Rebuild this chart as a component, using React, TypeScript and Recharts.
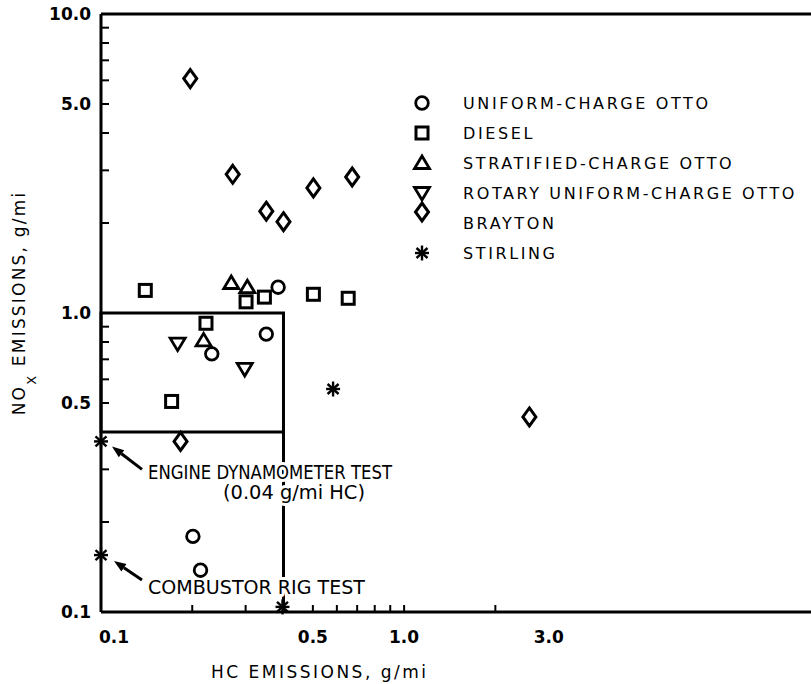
import React from 'react';
import {
  ScatterChart,
  Scatter,
  XAxis,
  YAxis,
  ReferenceArea,
  ReferenceLine,
  ReferenceDot,
  Legend,
} from 'recharts';

const FONT = '"DejaVu Sans", sans-serif';

// axis limits (log scales)
const HC_MIN = 0.1;
const HC_MAX = 22;
const NOX_MIN = 0.1;
const NOX_MAX = 10;

const seriesNames = [
  'UNIFORM-CHARGE OTTO',
  'DIESEL',
  'STRATIFIED-CHARGE OTTO',
  'ROTARY UNIFORM-CHARGE OTTO',
  'BRAYTON',
  'STIRLING',
];
const seriesKinds = ['circle', 'square', 'triangle', 'triangleDown', 'diamond', 'star'];

// HC and NOx emissions, g/mi
const uniformHc = [0.384, 0.351, 0.232, 0.201, 0.213];
const uniformNox = [1.22, 0.85, 0.73, 0.179, 0.138];

const dieselHc = [0.14, 0.301, 0.346, 0.502, 0.654, 0.222, 0.171];
const dieselNox = [1.19, 1.09, 1.13, 1.155, 1.12, 0.924, 0.506];

const stratifiedHc = [0.269, 0.304, 0.218];
const stratifiedNox = [1.26, 1.22, 0.81];

const rotaryHc = [0.179, 0.298];
const rotaryNox = [0.79, 0.65];

const braytonHc = [0.197, 0.272, 0.351, 0.4, 0.502, 0.674, 2.59, 0.183];
const braytonNox = [6.08, 2.91, 2.19, 2.02, 2.62, 2.85, 0.449, 0.372];

// first two are the engine dynamometer and combustor rig tests (HC off scale)
const stirlingHc = [0.04, 0.1, 0.583, 0.397];
const stirlingNox = [0.372, 0.155, 0.557, 0.104];

const xTicks = [0.1, 0.2, 0.3, 0.4, 0.5, 0.6, 0.7, 0.8, 0.9, 1, 2, 3];
const xLabelValues = [0.1, 0.5, 1, 3];
const xLabelTexts = ['0.1', '0.5', '1.0', '3.0'];

const yTicks = [0.1, 0.2, 0.3, 0.4, 0.5, 0.6, 0.7, 0.8, 0.9, 1, 2, 3, 4, 5, 6, 7, 8, 9, 10];
const yLabelValues = [0.1, 0.5, 1, 5, 10];
const yLabelTexts = ['0.1', '0.5', '1.0', '5.0', '10.0'];

// box marking the target region
const boxHc = [0.1, 0.4];
const boxNox = [0.4, 1.0];

// off-scale HC values sit on the left axis
const toPoints = (hc: number[], nox: number[]) =>
  hc.map((h, i) => ({ hc: Math.max(h, HC_MIN), nox: nox[i] }));

const seriesData = [
  toPoints(uniformHc, uniformNox),
  toPoints(dieselHc, dieselNox),
  toPoints(stratifiedHc, stratifiedNox),
  toPoints(rotaryHc, rotaryNox),
  toPoints(braytonHc, braytonNox),
  toPoints(stirlingHc, stirlingNox),
];

const Marker = ({ kind, cx, cy }: { kind: string; cx: number; cy: number }) => {
  const s = { fill: 'none', stroke: '#000', strokeWidth: 2.8 };
  switch (kind) {
    case 'circle':
      return <circle cx={cx} cy={cy} r={6.3} {...s} />;
    case 'square':
      return <rect x={cx - 6} y={cy - 6} width={12} height={12} {...s} strokeWidth={3} />;
    case 'triangle':
      return <polygon points={`${cx},${cy - 7} ${cx + 7.5},${cy + 5.5} ${cx - 7.5},${cy + 5.5}`} {...s} />;
    case 'triangleDown':
      return <polygon points={`${cx - 7.5},${cy - 5.5} ${cx + 7.5},${cy - 5.5} ${cx},${cy + 7}`} {...s} />;
    case 'diamond':
      return <polygon points={`${cx},${cy - 9} ${cx + 6.5},${cy} ${cx},${cy + 9} ${cx - 6.5},${cy}`} {...s} strokeWidth={3} />;
    default:
      return (
        <g stroke="#000" strokeWidth={2.4}>
          <line x1={cx} y1={cy - 7.5} x2={cx} y2={cy + 7.5} />
          <line x1={cx - 7} y1={cy} x2={cx + 7} y2={cy} />
          <line x1={cx - 5.5} y1={cy - 5} x2={cx + 5.5} y2={cy + 5} />
          <line x1={cx - 5.5} y1={cy + 5} x2={cx + 5.5} y2={cy - 5} />
        </g>
      );
  }
};

const XTick = (props: any) => {
  const { x, y, payload } = props;
  const i = xLabelValues.indexOf(payload.value);
  return (
    <g>
      {payload.value !== 3 && <line x1={x} x2={x} y1={y} y2={y - 7} stroke="#000" strokeWidth={2} />}
      {i >= 0 && (
        <text
          x={i === 0 ? x - 2 : x}
          y={y + 31}
          textAnchor={i === 0 ? 'start' : 'middle'}
          fontFamily={FONT}
          fontWeight="bold"
          fontSize={17}
          fill="#000"
        >
          {xLabelTexts[i]}
        </text>
      )}
    </g>
  );
};

const YTick = (props: any) => {
  const { x, y, payload } = props;
  const i = yLabelValues.indexOf(payload.value);
  return (
    <g>
      <line x1={x} x2={x + 8} y1={y} y2={y} stroke="#000" strokeWidth={2} />
      {i >= 0 && (
        <text x={x - 10} y={y + 6} textAnchor="end" fontFamily={FONT} fontWeight="bold" fontSize={17} fill="#000">
          {yLabelTexts[i]}
        </text>
      )}
    </g>
  );
};

const XTitle = (props: any) => {
  const vb = props.viewBox || { x: 101, y: 612 };
  return (
    <text x={vb.x + 110} y={vb.y + 66} textLength={215} lengthAdjust="spacing" fontFamily={FONT} fontSize={17} fill="#000">
      HC EMISSIONS, g/mi
    </text>
  );
};

const YTitle = (props: any) => {
  const vb = props.viewBox || { x: 0, y: 14, height: 598 };
  const x = vb.x + 25;
  const y = vb.y + vb.height / 2 - 10;
  return (
    <text
      x={x}
      y={y}
      transform={`rotate(-90, ${x}, ${y})`}
      textAnchor="middle"
      fontFamily={FONT}
      fontSize={17}
      letterSpacing={2.2}
      fill="#000"
    >
      NO
      <tspan fontSize={13} dy={11}>X</tspan>
      <tspan dy={-11}> EMISSIONS, g/mi</tspan>
    </text>
  );
};

const Arrow = ({ x1, y1, x2, y2 }: { x1: number; y1: number; x2: number; y2: number }) => {
  const len = Math.hypot(x2 - x1, y2 - y1);
  const ux = (x2 - x1) / len;
  const uy = (y2 - y1) / len;
  const bx = x2 - ux * 12;
  const by = y2 - uy * 12;
  const px = -uy * 4.5;
  const py = ux * 4.5;
  return (
    <g>
      <line x1={x1} y1={y1} x2={bx} y2={by} stroke="#000" strokeWidth={3} />
      <polygon points={`${x2},${y2} ${bx + px},${by + py} ${bx - px},${by - py}`} fill="#000" />
    </g>
  );
};

const NoteText = ({ x, y, width, children }: any) => (
  <text
    x={x}
    y={y}
    textLength={width}
    lengthAdjust="spacingAndGlyphs"
    fontFamily={FONT}
    fontSize={19}
    fill="#000"
    stroke="#fff"
    strokeWidth={6}
    strokeLinejoin="round"
    paintOrder="stroke"
  >
    {children}
  </text>
);

const EngineNote = (props: any) => {
  const { cx, cy } = props;
  return (
    <g>
      <Arrow x1={cx + 41} y1={cy + 28} x2={cx + 11} y2={cy + 5} />
      <NoteText x={cx + 47} y={cy + 38} width={244}>ENGINE DYNAMOMETER TEST</NoteText>
      <NoteText x={cx + 122} y={cy + 58} width={142}>(0.04 g/mi HC)</NoteText>
    </g>
  );
};

const CombustorNote = (props: any) => {
  const { cx, cy } = props;
  return (
    <g>
      <Arrow x1={cx + 41} y1={cy + 25} x2={cx + 13} y2={cy + 6} />
      <NoteText x={cx + 47} y={cy + 39} width={217}>COMBUSTOR RIG TEST</NoteText>
    </g>
  );
};

const LegendList = () => (
  <div style={{ fontFamily: FONT, fontSize: 16, letterSpacing: 2.6, color: '#000' }}>
    {seriesNames.map((name, i) => (
      <div key={name} style={{ display: 'flex', alignItems: 'center', height: 30 }}>
        <svg
          width={26}
          height={26}
          style={{ marginRight: 28, position: 'relative', top: seriesKinds[i] === 'diamond' ? -11 : 0 }}
        >
          <Marker kind={seriesKinds[i]} cx={13} cy={13} />
        </svg>
        <span>{name}</span>
      </div>
    ))}
  </div>
);

export default function App() {
  return (
    <div style={{ position: 'absolute', left: 0, top: 0, background: '#fff' }}>
      <ScatterChart width={811} height={684} margin={{ top: 14, right: 0, bottom: 0, left: 0 }}>
        <XAxis
          dataKey="hc"
          type="number"
          scale="log"
          domain={[HC_MIN, HC_MAX]}
          ticks={xTicks}
          interval={0}
          tickSize={0}
          tickMargin={0}
          tickLine={false}
          tick={<XTick />}
          axisLine={{ stroke: '#000', strokeWidth: 3 }}
          height={72}
          label={<XTitle />}
        />
        <YAxis
          dataKey="nox"
          type="number"
          scale="log"
          domain={[NOX_MIN, NOX_MAX]}
          ticks={yTicks}
          interval={0}
          tickSize={0}
          tickMargin={0}
          tickLine={false}
          tick={<YTick />}
          axisLine={{ stroke: '#000', strokeWidth: 3 }}
          width={101}
          label={<YTitle />}
        />
        <ReferenceLine y={NOX_MAX} stroke="#000" strokeWidth={3} />
        <ReferenceArea
          x1={boxHc[0]}
          x2={boxHc[1]}
          y1={boxNox[0]}
          y2={boxNox[1]}
          fill="none"
          fillOpacity={0}
          stroke="#000"
          strokeWidth={3}
        />
        <ReferenceLine
          segment={[
            { x: boxHc[1], y: NOX_MIN },
            { x: boxHc[1], y: boxNox[0] },
          ]}
          stroke="#000"
          strokeWidth={3}
        />
        <ReferenceDot x={HC_MIN} y={stirlingNox[0]} r={0} shape={EngineNote} />
        <ReferenceDot x={HC_MIN} y={stirlingNox[1]} r={0} shape={CombustorNote} />
        {seriesNames.map((name, i) => (
          <Scatter
            key={name}
            name={name}
            data={seriesData[i]}
            isAnimationActive={false}
            shape={(p: any) => <Marker kind={seriesKinds[i]} cx={p.cx} cy={p.cy} />}
          />
        ))}
        <Legend
          layout="vertical"
          align="center"
          verticalAlign="middle"
          wrapperStyle={{ left: 409, top: 88, width: 400 }}
          content={LegendList}
        />
      </ScatterChart>
    </div>
  );
}
